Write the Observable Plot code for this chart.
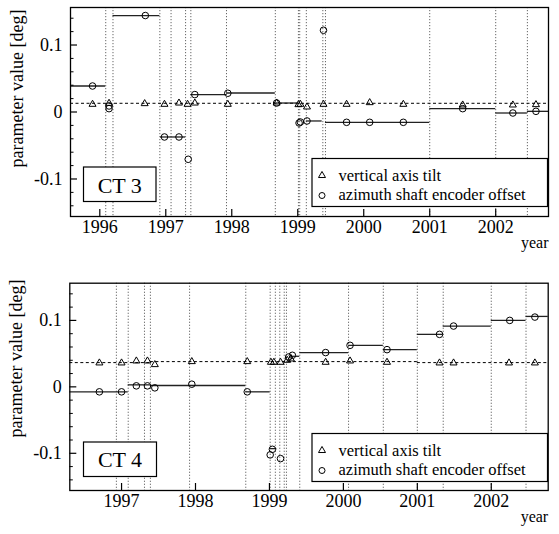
<!DOCTYPE html>
<html>
<head>
<meta charset="utf-8">
<script src="https://cdn.jsdelivr.net/npm/d3@7"></script>
<script src="https://cdn.jsdelivr.net/npm/@observablehq/plot@0.6"></script>
<style>
  body { margin: 0; background: #fff; }
  #wrap { position: relative; width: 559px; height: 534px; overflow: hidden; }
  #wrap > div { position: absolute; left: 0; }
  #wrap svg { display: block; overflow: visible; }
  #wrap svg, #wrap svg text, #wrap svg g { font-family: "Liberation Serif", "Times New Roman", Times, serif !important; }
</style>
</head>
<body>
<div id="wrap">
  <div id="top" style="top:0px"></div>
  <div id="bottom" style="top:270px"></div>
  <div id="overlay" style="top:0px"></div>
</div>
<script>
// ---------- shared labels ----------
const yAxisTitle = "parameter value [deg]";
const xAxisTitle = "year";
const yMajor = [-0.1, 0, 0.1];
const yTickLabels = ["-0.1", "0", "0.1"];
const yMinor = [-0.14, -0.12, -0.08, -0.06, -0.04, -0.02, 0.02, 0.04, 0.06, 0.08, 0.12, 0.14];
const yDomain = [-0.156, 0.156];
const legendLabels = ["vertical axis tilt", "azimuth shaft encoder offset"];

// ---------- CT 3 ----------
const ct3Name = "CT 3";
const ct3XDomain = [1995.556, 2002.80];
const ct3Years = [1996, 1997, 1998, 1999, 2000, 2001, 2002];
const ct3YearLabels = ["1996", "1997", "1998", "1999", "2000", "2001", "2002"];
const ct3Dividers = [1996.09, 1996.20, 1996.91, 1997.08, 1997.30, 1997.38, 1997.92, 1998.66,
  1999.01, 1999.03, 1999.13, 1999.38, 1999.42, 2001.00, 2002.00, 2002.48];
const ct3TiltDates = [1995.89, 1996.14, 1996.68, 1996.98, 1997.20, 1997.33, 1997.44, 1997.94, 1998.68,
  1999.01, 1999.04, 1999.14, 1999.39, 1999.74, 2000.09, 2000.60, 2001.50, 2002.26, 2002.61];
const ct3TiltValues = [0.0115, 0.013, 0.0125, 0.0115, 0.0134, 0.0115, 0.0134, 0.0115, 0.0134,
  0.011, 0.0115, 0.0075, 0.0115, 0.0115, 0.014, 0.0115, 0.0105, 0.0105, 0.011];
const ct3AzDates = [1995.89, 1996.14, 1996.14, 1996.69, 1996.98, 1997.20, 1997.34, 1997.44, 1997.94, 1998.68,
  1999.02, 1999.04, 1999.14, 1999.39, 1999.74, 2000.09, 2000.60, 2001.50, 2002.26, 2002.61];
const ct3AzValues = [0.0388, 0.009, 0.005, 0.144, -0.0373, -0.0373, -0.0706, 0.026, 0.028, 0.0134,
  -0.0164, -0.015, -0.0134, 0.122, -0.0154, -0.0154, -0.0154, 0.005, -0.0015, 0.001];
const ct3SegFrom  = [1995.556, 1996.20, 1996.92, 1997.38, 1997.92, 1998.66, 1999.13, 1999.42, 2001.00, 2002.00, 2002.48];
const ct3SegTo    = [1996.09, 1996.91, 1997.30, 1997.92, 1998.66, 1999.01, 1999.37, 2001.00, 2002.00, 2002.48, 2002.80];
const ct3SegValue = [0.0388, 0.144, -0.0373, 0.026, 0.0284, 0.0134, -0.0134, -0.0154, 0.005, -0.0015, 0.001];
const ct3DashFrom  = [1995.556];
const ct3DashTo    = [2002.80];
const ct3DashValue = [0.013];

// ---------- CT 4 ----------
const ct4Name = "CT 4";
const ct4XDomain = [1996.30, 2002.77];
const ct4Years = [1997, 1998, 1999, 2000, 2001, 2002];
const ct4YearLabels = ["1997", "1998", "1999", "2000", "2001", "2002"];
const ct4Dividers = [1996.93, 1997.09, 1997.31, 1997.39, 1997.92, 1998.68, 1999.01, 1999.08, 1999.14,
  1999.20, 1999.23, 1999.41, 2000.07, 2000.54, 2001.00, 2001.35, 2002.00, 2002.47];
const ct4TiltDates = [1996.70, 1997.00, 1997.20, 1997.35, 1997.45, 1997.95, 1998.70, 1999.02, 1999.06,
  1999.15, 1999.24, 1999.29, 1999.76, 2000.09, 2000.59, 2001.30, 2001.49, 2002.24, 2002.59];
const ct4TiltValues = [0.036, 0.036, 0.039, 0.039, 0.0335, 0.038, 0.038, 0.037, 0.037,
  0.037, 0.040, 0.042, 0.037, 0.039, 0.037, 0.036, 0.036, 0.036, 0.036];
const ct4AzDates = [1996.70, 1997.00, 1997.20, 1997.35, 1997.45, 1997.95, 1998.70, 1999.01, 1999.04,
  1999.15, 1999.26, 1999.31, 1999.76, 2000.09, 2000.59, 2001.30, 2001.49, 2002.25, 2002.59];
const ct4AzValues = [-0.0075, -0.0075, 0.0015, 0.0015, -0.0015, 0.004, -0.0075, -0.1024, -0.094,
  -0.108, 0.045, 0.0475, 0.0516, 0.0625, 0.056, 0.079, 0.0915, 0.100, 0.105];
const ct4SegFrom  = [1996.30, 1997.09, 1997.39, 1998.68, 1999.01, 1999.29, 1999.41, 2000.07, 2000.54, 2001.00, 2001.35, 2002.00, 2002.47];
const ct4SegTo    = [1997.09, 1997.39, 1998.68, 1999.01, 1999.10, 1999.41, 2000.07, 2000.54, 2001.00, 2001.35, 2002.00, 2002.47, 2002.77];
const ct4SegValue = [-0.0075, 0.003, 0.002, -0.0075, -0.093, 0.046, 0.0516, 0.0625, 0.056, 0.079, 0.0915, 0.100, 0.106];
const ct4DashFrom  = [1996.30, 1997.39, 2001.00];
const ct4DashTo    = [1997.39, 2001.00, 2002.77];
const ct4DashValue = [0.0365, 0.038, 0.0365];

// ---------- helpers ----------
const fontFam = '"Liberation Serif","Times New Roman",Times,serif';
const pts = (dates, values) => dates.map((d, i) => ({date: d, value: values[i]}));
const segs = (from, to, value) => from.map((f, i) => ({from: f, to: to[i], value: value[i]}));

function panel(cfg) {
  const W = 559;
  const innerW = W - cfg.ml - cfg.mr;
  const innerH = cfg.height - cfg.mt - cfg.mb;
  return Plot.plot({
    width: W, height: cfg.height,
    marginLeft: cfg.ml, marginRight: cfg.mr, marginTop: cfg.mt, marginBottom: cfg.mb,
    style: {fontFamily: fontFam, fontSize: "18px", background: "transparent", color: "black", overflow: "visible"},
    x: {domain: cfg.xDomain, label: null, axis: null},
    y: {domain: yDomain, label: null, axis: null},
    marks: [
      Plot.ruleX(cfg.dividers, {x: d => d, stroke: "#555", strokeWidth: 0.9, strokeDasharray: "1.2,1.8"}),
      Plot.ruleY(cfg.dashed, {y: "value", x1: "from", x2: "to", stroke: "black", strokeWidth: 1, strokeDasharray: "3,2.5"}),
      Plot.ruleY(cfg.segments, {y: "value", x1: "from", x2: "to", stroke: "#222", strokeWidth: 1.3}),
      Plot.dot(cfg.tilt, {x: "date", y: "value", symbol: "triangle", r: 2.6, stroke: "black", strokeWidth: 1, fill: "none"}),
      Plot.dot(cfg.az, {x: "date", y: "value", symbol: "circle", r: 3.3, stroke: "black", strokeWidth: 1, fill: "none"}),
      Plot.tickX(cfg.years, {x: d => d, insetTop: innerH - 7, stroke: "black", strokeWidth: 1.2}),
      Plot.tickY(yMinor, {y: d => d, insetRight: innerW - 3.5, stroke: "black", strokeWidth: 1}),
      Plot.tickY(yMajor, {y: d => d, insetRight: innerW - 7, stroke: "black", strokeWidth: 1.2}),
      Plot.frame({stroke: "black", strokeWidth: 1.3}),
      // tick labels (as text marks positioned by the scales)
      Plot.text(cfg.years, {x: d => d, text: (d, i) => cfg.yearLabels[i], frameAnchor: "bottom", lineAnchor: "top", dy: 3.5, fontSize: 18}),
      Plot.text(yMajor, {y: d => d, text: (d, i) => yTickLabels[i], frameAnchor: "left", textAnchor: "end", dx: -8, fontSize: 18}),
      Plot.text([yAxisTitle], {frameAnchor: "bottom-left", dx: -48, dy: cfg.labelDy, rotate: -90, textAnchor: "start", fontSize: 18}),
      Plot.text([xAxisTitle], {frameAnchor: "bottom-right", dy: 31, textAnchor: "end", fontSize: 16})
    ]
  });
}

document.getElementById("top").appendChild(panel({
  height: 270, ml: 70, mr: 11, mt: 7, mb: 54, labelDy: -49,
  xDomain: ct3XDomain, years: ct3Years, yearLabels: ct3YearLabels, dividers: ct3Dividers,
  tilt: pts(ct3TiltDates, ct3TiltValues), az: pts(ct3AzDates, ct3AzValues),
  segments: segs(ct3SegFrom, ct3SegTo, ct3SegValue), dashed: segs(ct3DashFrom, ct3DashTo, ct3DashValue)
}));

document.getElementById("bottom").appendChild(panel({
  height: 264, ml: 69.3, mr: 11.3, mt: 12.7, mb: 44, labelDy: -53,
  xDomain: ct4XDomain, years: ct4Years, yearLabels: ct4YearLabels, dividers: ct4Dividers,
  tilt: pts(ct4TiltDates, ct4TiltValues), az: pts(ct4AzDates, ct4AzValues),
  segments: segs(ct4SegFrom, ct4SegTo, ct4SegValue), dashed: segs(ct4DashFrom, ct4DashTo, ct4DashValue)
}));

// ---------- overlay: name boxes and legends ----------
const ov = d3.select("#overlay").append("svg").attr("width", 559).attr("height", 534)
  .style("font-family", fontFam);

function nameBox(x, y, w, h, label, baseline) {
  ov.append("rect").attr("x", x).attr("y", y).attr("width", w).attr("height", h)
    .attr("fill", "white").attr("stroke", "black").attr("stroke-width", 1.2);
  ov.append("text").attr("x", x + w / 2).attr("y", baseline).attr("text-anchor", "middle")
    .attr("font-size", 22).text(label);
}
function legend(x, y, w, h) {
  ov.append("rect").attr("x", x).attr("y", y).attr("width", w).attr("height", h)
    .attr("fill", "white").attr("stroke", "black").attr("stroke-width", 1.2);
  ov.append("path").attr("d", d3.symbol(d3.symbolTriangle, 2.6 * 2.6 * Math.PI)())
    .attr("transform", `translate(${x + 10},${y + 17})`).attr("fill", "none").attr("stroke", "black");
  ov.append("circle").attr("cx", x + 10).attr("cy", y + 37).attr("r", 3)
    .attr("fill", "none").attr("stroke", "black");
  ov.append("text").attr("x", x + 26.5).attr("y", y + 22).attr("font-size", 16.5).text(legendLabels[0]);
  ov.append("text").attr("x", x + 26.5).attr("y", y + 41.5).attr("font-size", 16.5).text(legendLabels[1]);
}
nameBox(83.5, 167, 72.5, 34.5, ct3Name, 192.5);
nameBox(83.5, 442, 73, 34.5, ct4Name, 467.3);
legend(312, 158.5, 235.5, 48);
legend(312, 433.5, 235.5, 48);
</script>
</body>
</html>
